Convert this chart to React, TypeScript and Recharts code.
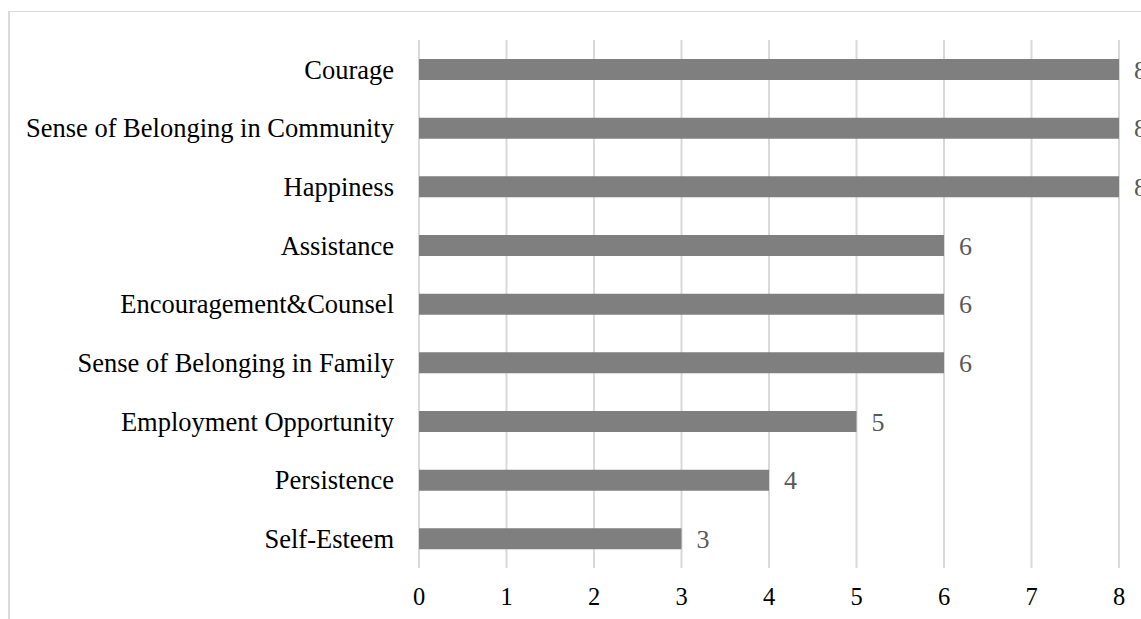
import { BarChart, Bar, XAxis, YAxis, CartesianGrid, LabelList } from 'recharts';

const categories = [
  'Courage',
  'Sense of Belonging in Community',
  'Happiness',
  'Assistance',
  'Encouragement&Counsel',
  'Sense of Belonging in Family',
  'Employment Opportunity',
  'Persistence',
  'Self-Esteem',
];

const counts = [8, 8, 8, 6, 6, 6, 5, 4, 3];

const xTicks = [0, 1, 2, 3, 4, 5, 6, 7, 8];

const FONT = '"Liberation Serif", "Times New Roman", serif';

export default function App() {
  const data = categories.map((name, i) => ({ name, value: counts[i] }));

  return (
    <div
      style={{
        position: 'fixed',
        left: 8,
        top: 11,
        width: 1133,
        height: 608,
        overflow: 'hidden',
        borderLeft: '2px solid #d9d9d9',
        borderTop: '1px solid #d9d9d9',
        background: '#fff',
        fontFamily: FONT,
      }}
    >
      <BarChart
        width={1180}
        height={620}
        data={data}
        layout="vertical"
        margin={{ top: 28, right: 71, left: 0, bottom: 24 }}
      >
        <CartesianGrid horizontal={false} stroke="#d9d9d9" strokeWidth={2} />
        <XAxis
          type="number"
          domain={[0, 8]}
          ticks={xTicks}
          axisLine={false}
          tickLine={false}
          tickMargin={14}
          height={40}
          tick={{ fill: '#000', fontSize: 24.5, fontFamily: FONT }}
        />
        <YAxis
          type="category"
          dataKey="name"
          width={409}
          axisLine={false}
          tickLine={false}
          tickMargin={19}
          interval={0}
          tick={{ fill: '#000', fontSize: 26.5, fontFamily: FONT }}
        />
        <Bar dataKey="value" fill="#7f7f7f" barSize={21} isAnimationActive={false}>
          {/* the three 8s run past the right edge and are clipped by the frame */}
          <LabelList
            dataKey="value"
            position="right"
            offset={15}
            fill="#595959"
            fontSize={26}
            fontFamily={FONT}
          />
        </Bar>
      </BarChart>
    </div>
  );
}
